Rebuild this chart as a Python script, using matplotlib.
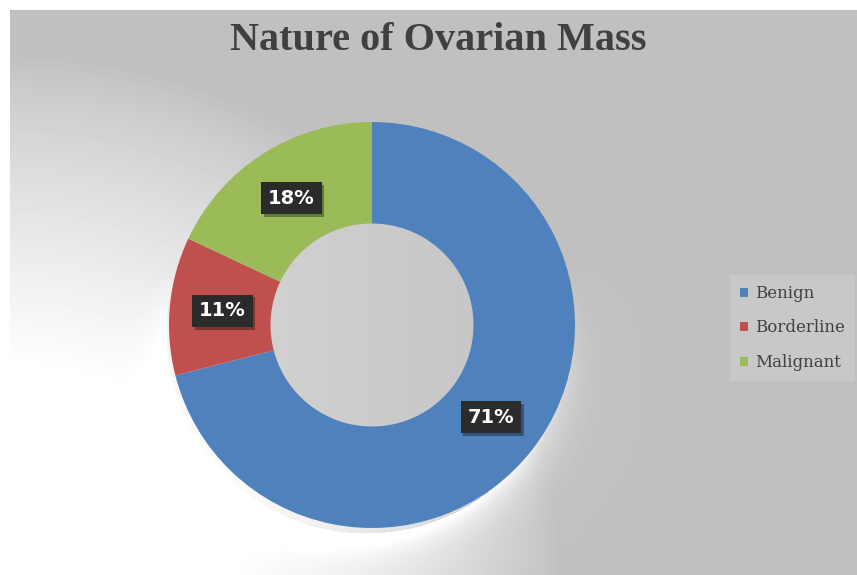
import matplotlib.pyplot as plt
import matplotlib.patheffects as pe
import numpy as np

categories = ['Benign', 'Borderline', 'Malignant']
shares = [71, 11, 18]
colors = ['#4f81bd', '#c0504d', '#9bbb59']

W, H = 857, 575
fig = plt.figure(figsize=(W / 100, H / 100), dpi=100)

cx, cy, rad = 372, 325, 203

# soft grey backdrop, fading to white towards the lower left
bg = fig.add_axes([0, 0, 1, 1])
X, Y = np.meshgrid(np.arange(W), np.arange(H))
d = np.sqrt((X / 560.0) ** 2 + ((H - Y) / 520.0) ** 2)
white = np.clip((1 - d) / 0.6, 0, 1) ** 0.8
# light halo under the lower part of the ring
r = np.sqrt((X - 366.0) ** 2 + (Y - 333.0) ** 2)
side = np.clip((Y - cy) / rad + 0.3, 0, 1)
halo = np.exp(-np.clip(r - 203, 0, None) / 18.0) * (r > 200) * 0.6 * side
white = np.clip(white + halo, 0, 1)
grey = 192 + white * 63
# the hole keeps a flat light grey
hole = np.sqrt((X - cx) ** 2 + (Y - cy) ** 2) < 110
grey[hole] = (198 + 10 * (cx + 102 - X) / 204.0)[hole]
grey[:10, :] = 255
grey[:, :10] = 255
bg.imshow(grey, cmap='gray', vmin=0, vmax=255, extent=[0, W, H, 0], aspect='auto')
bg.set_xlim(0, W)
bg.set_ylim(H, 0)
bg.axis('off')

# donut
ax = fig.add_axes([(cx - rad) / W, (H - cy - rad) / H, 2 * rad / W, 2 * rad / H])
wedges, _ = ax.pie(shares, colors=colors, startangle=90, counterclock=False,
                   radius=1, wedgeprops=dict(width=0.5, linewidth=0))
ax.set_xlim(-1, 1)
ax.set_ylim(-1, 1)
ax.axis('off')

# percentage tags in dark boxes
total = sum(shares)
start = 90.0
for val in shares:
    ang = np.deg2rad(start - 360.0 * val / total / 2)
    start -= 360.0 * val / total
    x, y = 0.74 * np.cos(ang), 0.74 * np.sin(ang)
    t = ax.text(x, y, f'{val}%', ha='center', va='center', fontsize=14, fontweight='bold',
                color='white',
                bbox=dict(boxstyle='square,pad=0.35', fc='#2b2b2b', ec='none'))
    t.get_bbox_patch().set_path_effects([
        pe.SimplePatchShadow(offset=(2, -2), shadow_rgbFace='black', alpha=0.35),
        pe.Normal()])

fig.text(438 / W, 1 - 41 / H, 'Nature of Ovarian Mass', ha='center', va='center',
         fontsize=29, fontweight='bold', color='#404040', family='Liberation Serif')

leg = fig.legend(wedges, categories, loc='center left', bbox_to_anchor=(730 / W, 1 - 328 / H),
                 frameon=True, fancybox=False, facecolor='#cecece', edgecolor='none',
                 framealpha=0.6, handlelength=0.45, handleheight=0.45, handletextpad=0.45,
                 labelspacing=1.05, borderpad=0.6, borderaxespad=0,
                 prop=dict(family='DejaVu Serif', size=12))
for t in leg.get_texts():
    t.set_color('#404040')

fig.savefig('out.png', dpi=100)
